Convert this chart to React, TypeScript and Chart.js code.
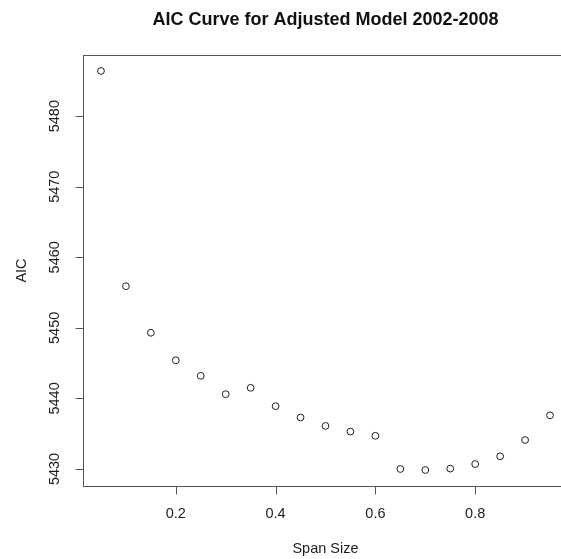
import React, { useEffect, useRef } from "react";
import { Chart, registerables } from "chart.js";

Chart.register(...registerables);

// Loess span sizes tried and the AIC of each fitted model
const spanSizes = [0.05, 0.1, 0.15, 0.2, 0.25, 0.3, 0.35, 0.4, 0.45, 0.5, 0.55, 0.6, 0.65, 0.7, 0.75, 0.8, 0.85, 0.9, 0.95];
const aicValues = [5486.4, 5455.9, 5449.3, 5445.4, 5443.2, 5440.6, 5441.5, 5438.9, 5437.3, 5436.1, 5435.3, 5434.7, 5430.0, 5429.85, 5430.05, 5430.7, 5431.8, 5434.1, 5437.6];

const xTickValues = [0.2, 0.4, 0.6, 0.8];
const yTickValues = [5430, 5440, 5450, 5460, 5470, 5480];

const titleText = "AIC Curve for Adjusted Model 2002-2008";
const xLabel = "Span Size";
const yLabel = "AIC";

const FONT = '"Liberation Sans", Arial, Helvetica, sans-serif';
const INK = "#1e1e1e";
const FRAME = "#555555";

// R-style axis limits: data range widened by 4% on each side
function padRange(values: number[]) {
  const lo = Math.min(...values);
  const hi = Math.max(...values);
  const pad = (hi - lo) * 0.04;
  return { min: lo - pad, max: hi + pad };
}

const baseGraphicsPlugin = {
  id: "baseGraphics",
  afterDraw(chart: any) {
    const { ctx, chartArea, scales } = chart;
    const { left, right, top, bottom } = chartArea;
    const xs = scales.x;
    const ys = scales.y;
    ctx.save();

    // frame around the plotting region
    ctx.strokeStyle = FRAME;
    ctx.lineWidth = 1;
    ctx.strokeRect(Math.round(left) + 0.5, Math.round(top) + 0.5, Math.round(right - left), Math.round(bottom - top));

    ctx.fillStyle = INK;
    ctx.font = `14.5px ${FONT}`;

    // x axis: line, ticks and labels
    const xb = Math.round(bottom) + 0.5;
    ctx.beginPath();
    ctx.moveTo(xs.getPixelForValue(xTickValues[0]), xb);
    ctx.lineTo(xs.getPixelForValue(xTickValues[xTickValues.length - 1]), xb);
    xTickValues.forEach((v) => {
      const px = Math.round(xs.getPixelForValue(v)) + 0.5;
      ctx.moveTo(px, xb);
      ctx.lineTo(px, xb + 8);
    });
    ctx.stroke();
    ctx.textAlign = "center";
    ctx.textBaseline = "middle";
    xTickValues.forEach((v) => {
      ctx.fillText(v.toFixed(1), xs.getPixelForValue(v), bottom + 28);
    });

    // y axis: line, ticks and rotated labels
    const yl = Math.round(left) + 0.5;
    ctx.beginPath();
    ctx.moveTo(yl, ys.getPixelForValue(yTickValues[0]));
    ctx.lineTo(yl, ys.getPixelForValue(yTickValues[yTickValues.length - 1]));
    yTickValues.forEach((v) => {
      const py = Math.round(ys.getPixelForValue(v)) + 0.5;
      ctx.moveTo(yl, py);
      ctx.lineTo(yl - 8, py);
    });
    ctx.stroke();
    yTickValues.forEach((v) => {
      ctx.save();
      ctx.translate(left - 28, ys.getPixelForValue(v));
      ctx.rotate(-Math.PI / 2);
      ctx.fillText(String(v), 0, 0);
      ctx.restore();
    });

    // axis titles
    ctx.fillText(xLabel, (left + right) / 2, bottom + 63);
    ctx.save();
    ctx.translate(left - 61, (top + bottom) / 2);
    ctx.rotate(-Math.PI / 2);
    ctx.fillText(yLabel, 0, 0);
    ctx.restore();

    // main title
    ctx.font = `bold 18px ${FONT}`;
    ctx.fillStyle = "#111";
    ctx.fillText(titleText, (left + right) / 2, 20);

    ctx.restore();
  },
};

export default function App() {
  const canvasRef = useRef<HTMLCanvasElement | null>(null);

  useEffect(() => {
    if (!canvasRef.current) return;
    const xr = padRange(spanSizes);
    const yr = padRange(aicValues);
    const chart = new Chart(canvasRef.current, {
      type: "scatter",
      data: {
        datasets: [
          {
            data: spanSizes.map((x, i) => ({ x, y: aicValues[i] })),
            pointStyle: "circle",
            pointRadius: 3.4,
            pointBorderWidth: 1,
            pointBackgroundColor: "rgba(0,0,0,0)",
            pointBorderColor: INK,
            showLine: false,
          },
        ],
      },
      options: {
        responsive: false,
        animation: false,
        layout: { padding: { left: 83, right: 32, top: 55, bottom: 73 } },
        plugins: { legend: { display: false }, tooltip: { enabled: false }, title: { display: false } },
        scales: {
          x: { type: "linear", display: false, min: xr.min, max: xr.max },
          y: { type: "linear", display: false, min: yr.min, max: yr.max },
        },
      },
      plugins: [baseGraphicsPlugin],
    });
    return () => chart.destroy();
  }, []);

  return (
    <div style={{ position: "fixed", left: 0, top: 0, width: 561, height: 559, overflow: "hidden", background: "#fff" }}>
      <canvas ref={canvasRef} width={600} height={559} style={{ display: "block", width: 600, height: 559 }} />
    </div>
  );
}
